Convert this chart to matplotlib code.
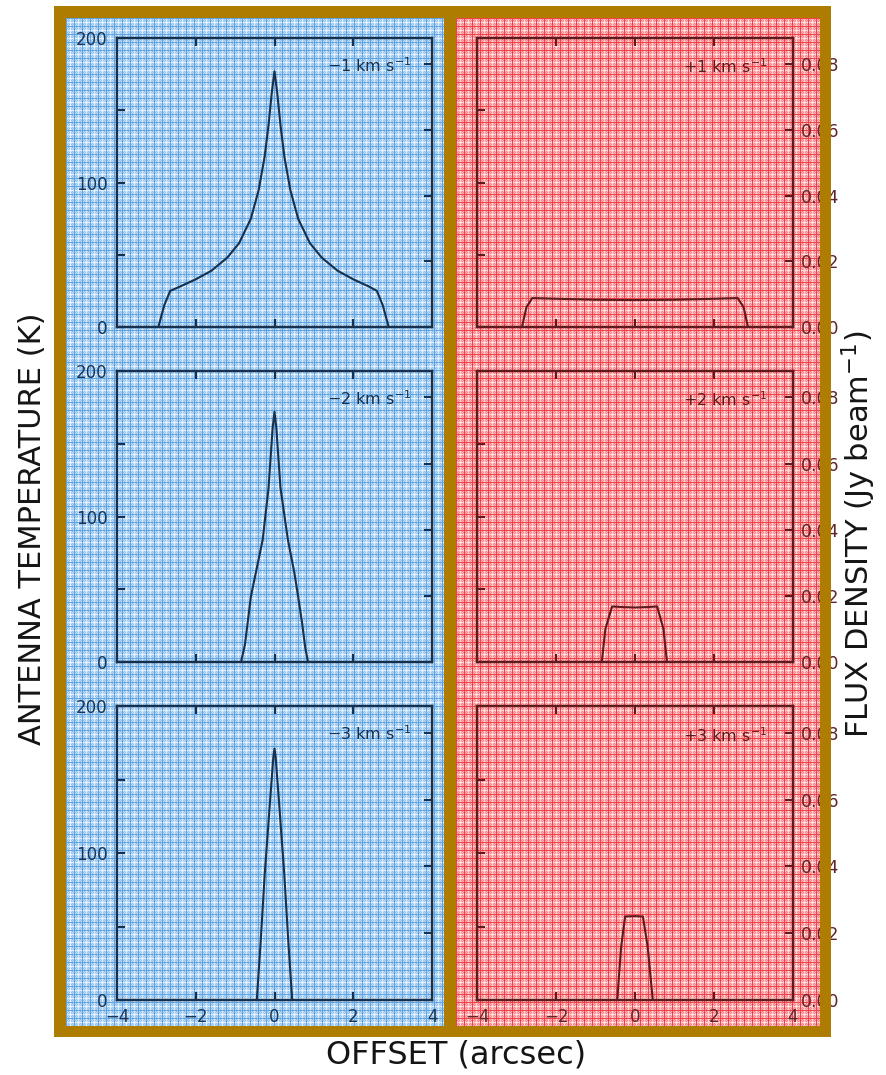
import numpy as np
import matplotlib
matplotlib.use("Agg")
import matplotlib.pyplot as plt
from matplotlib.patches import Rectangle

# ---- data -------------------------------------------------------------
# Offsets (arcsec) and antenna temperature (K) for the blue-shifted channels
x_m1 = [-4.0, -2.95, -2.8, -2.65, -2.4, -2.0, -1.6, -1.2, -0.9, -0.6, -0.4, -0.25, -0.15, -0.07, 0.0,
        0.07, 0.15, 0.25, 0.4, 0.6, 0.9, 1.2, 1.6, 2.0, 2.4, 2.6, 2.75, 2.9, 4.0]
t_m1 = [0, 0, 15, 25, 28, 33, 39, 48, 58, 75, 95, 118, 140, 162, 177,
        162, 140, 118, 95, 75, 58, 48, 39, 33, 28, 25, 15, 0, 0]

x_m2 = [-4.0, -0.85, -0.75, -0.6, -0.5, -0.3, -0.15, -0.05, 0.0, 0.05, 0.15, 0.34, 0.5, 0.6, 0.7, 0.78, 0.85, 4.0]
t_m2 = [0, 0, 12, 45, 58, 84, 120, 160, 172, 160, 120, 84, 62, 45, 27, 10, 0, 0]

x_m3 = [-4.0, -0.45, -0.35, -0.25, -0.1, -0.03, 0.0, 0.03, 0.1, 0.25, 0.35, 0.45, 4.0]
t_m3 = [0, 0, 40, 85, 140, 165, 171, 165, 140, 85, 40, 0, 0]

# Offsets (arcsec) and flux density (Jy/beam) for the red-shifted channels
x_p1 = [-4.0, -2.86, -2.75, -2.6, -2.0, -1.0, 0.0, 1.0, 2.0, 2.6, 2.75, 2.86, 4.0]
s_p1 = [0, 0, 0.006, 0.0088, 0.0086, 0.0083, 0.0082, 0.0083, 0.0086, 0.0088, 0.006, 0.0, 0.0]

x_p2 = [-4.0, -0.84, -0.75, -0.58, -0.3, 0.0, 0.3, 0.56, 0.72, 0.81, 4.0]
s_p2 = [0, 0, 0.010, 0.0168, 0.0166, 0.0165, 0.0166, 0.0168, 0.010, 0.0, 0.0]

x_p3 = [-4.0, -0.45, -0.35, -0.25, 0.0, 0.2, 0.32, 0.45, 4.0]
s_p3 = [0, 0, 0.016, 0.0250, 0.0251, 0.0250, 0.016, 0.0, 0.0]

labels_blue = ["\u22121 km s$^{-1}$", "\u22122 km s$^{-1}$", "\u22123 km s$^{-1}$"]
labels_red = ["+1 km s$^{-1}$", "+2 km s$^{-1}$", "+3 km s$^{-1}$"]

x_ticks = [-4, -2, 0, 2, 4]
k_ticks = [0, 50, 100, 150, 200]
k_ticklabels = ["0", "", "100", "", "200"]
jy_ticks = [0.0, 0.02, 0.04, 0.06, 0.08]
jy_ticklabels = ["0.00", "0.02", "0.04", "0.06", "0.08"]

K_MAX = 200.0
JY_MAX = 0.088

# ---- figure -----------------------------------------------------------
W, H = 887, 1075
fig = plt.figure(figsize=(W / 100, H / 100), dpi=100)
fig.patch.set_facecolor("white")


def fbox(x0, y0, x1, y1):
    """pixel box (top-left origin) -> figure fraction rect"""
    return [x0 / W, 1 - y1 / H, (x1 - x0) / W, (y1 - y0) / H]


def plaid(h, w, light, mid, dark, pale):
    yy, xx = np.mgrid[0:h, 0:w]
    img = np.empty((h, w, 3), dtype=float)
    chk = ((xx + yy) % 2 == 0)
    img[chk] = light
    img[~chk] = mid
    pale_m = (xx % 8 == 4) | (yy % 8 == 4)
    img[pale_m] = pale
    dark_m = (xx % 8 == 0) | (yy % 8 == 0)
    img[dark_m] = dark
    return img / 255.0


GOLD = "#ae7c00"
fig.patches.append(Rectangle((54 / W, 1 - 1037 / H), (831 - 54) / W, (1037 - 6) / H,
                             transform=fig.transFigure, facecolor=GOLD, edgecolor="none", zorder=-10))

bg_blue = fig.add_axes(fbox(66, 18, 444, 1026), zorder=-5)
bg_blue.imshow(plaid(1008, 378, (186, 217, 244), (146, 194, 236), (98, 164, 226), (228, 242, 253)),
               aspect="auto", interpolation="nearest")
bg_blue.axis("off")

bg_red = fig.add_axes(fbox(456, 18, 820, 1026), zorder=-5)
bg_red.imshow(plaid(1008, 364, (255, 182, 184), (250, 128, 134), (240, 64, 74), (255, 218, 218)),
              aspect="auto", interpolation="nearest")
bg_red.axis("off")

rows = [(38, 327), (371, 662), (706, 1000)]
BLUE_INK = "#16304e"
BLUE_TXT = "#1a3556"
RED_INK = "#5e1a1c"
RED_TXT = "#5e2628"

blue_data = [(x_m1, t_m1), (x_m2, t_m2), (x_m3, t_m3)]
red_data = [(x_p1, s_p1), (x_p2, s_p2), (x_p3, s_p3)]


def setup(ax, tw, ink, txt, left_labels, right_labels, bottom_labels):
    ax.set_facecolor("none")
    ax.set_xlim(-4, 4)
    ax.set_ylim(0, K_MAX)
    tw.set_ylim(0, JY_MAX)
    for a in (ax, tw):
        for s in a.spines.values():
            s.set_color(ink)
            s.set_linewidth(1.6)
    ax.set_xticks(x_ticks)
    ax.set_yticks(k_ticks)
    ax.set_yticklabels(k_ticklabels if left_labels else [""] * 5)
    tw.set_yticks(jy_ticks)
    tw.set_yticklabels(jy_ticklabels if right_labels else [""] * 5)
    ax.tick_params(axis="both", direction="in", length=6, width=1.5, color=ink,
                   labelcolor=txt, labelsize=12, top=True, right=False)
    ax.tick_params(axis="y", pad=7)
    ax.tick_params(axis="x", pad=6, labelbottom=bottom_labels)
    tw.tick_params(axis="y", direction="in", length=6, width=1.5, color=ink,
                   labelcolor=txt, labelsize=12.5, pad=6)


for i, (y0, y1) in enumerate(rows):
    last = i == len(rows) - 1

    ax = fig.add_axes(fbox(117, y0, 432, y1))
    tw = ax.twinx()
    setup(ax, tw, BLUE_INK, BLUE_TXT, True, False, last)
    xs, ts = blue_data[i]
    ax.plot(xs, ts, color=BLUE_INK, lw=1.5)
    ax.text(0.935, 0.905, labels_blue[i], transform=ax.transAxes, ha="right", va="center",
            fontsize=11.5, color=BLUE_INK)

    axr = fig.add_axes(fbox(477, y0, 793, y1))
    twr = axr.twinx()
    setup(axr, twr, RED_INK, RED_TXT, False, True, last)
    xs, ss = red_data[i]
    twr.plot(xs, ss, color=RED_INK, lw=1.5)
    axr.text(0.92, 0.9, labels_red[i], transform=axr.transAxes, ha="right", va="center",
             fontsize=11.5, color=RED_INK)

# right edge of the frame sits over the flux-density tick labels
fig.patches.append(Rectangle((820 / W, 1 - 1037 / H), 11 / W, (1037 - 6) / H,
                             transform=fig.transFigure, facecolor=GOLD, edgecolor="none", zorder=20))

fig.text(33 / W, 1 - 529 / H, "ANTENNA TEMPERATURE (K)", rotation=90, ha="center", va="center",
         fontsize=22, color="#151515")
fig.text(859 / W, 1 - 534 / H, "FLUX DENSITY (Jy beam$^{-1}$)", rotation=90, ha="center", va="center",
         fontsize=22, color="#151515")
fig.text(456 / W, 1 - 1055 / H, "OFFSET (arcsec)", ha="center", va="center",
         fontsize=23, color="#151515")

fig.savefig("out.png", dpi=100)
